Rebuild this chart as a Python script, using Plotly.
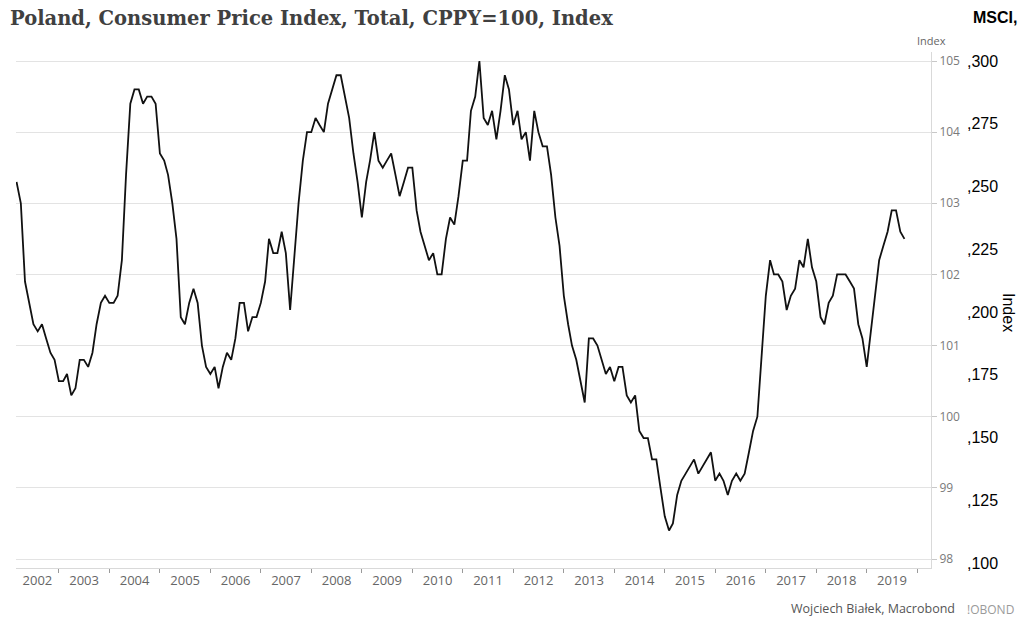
import pandas as pd
import plotly.graph_objects as go

# ---- data: Poland CPI, same period previous year = 100, monthly Mar 2002 - Oct 2019
start_month = "2002-03-01"
cpi_2002 = [103.3, 103.0, 101.9, 101.6, 101.3, 101.2, 101.3, 101.1, 100.9, 100.8]
cpi_2003 = [100.5, 100.5, 100.6, 100.3, 100.4, 100.8, 100.8, 100.7, 100.9, 101.3, 101.6, 101.7]
cpi_2004 = [101.6, 101.6, 101.7, 102.2, 103.4, 104.4, 104.6, 104.6, 104.4, 104.5, 104.5, 104.4]
cpi_2005 = [103.7, 103.6, 103.4, 103.0, 102.5, 101.4, 101.3, 101.6, 101.8, 101.6, 101.0, 100.7]
cpi_2006 = [100.6, 100.7, 100.4, 100.7, 100.9, 100.8, 101.1, 101.6, 101.6, 101.2, 101.4, 101.4]
cpi_2007 = [101.6, 101.9, 102.5, 102.3, 102.3, 102.6, 102.3, 101.5, 102.3, 103.0, 103.6, 104.0]
cpi_2008 = [104.0, 104.2, 104.1, 104.0, 104.4, 104.6, 104.8, 104.8, 104.5, 104.2, 103.7, 103.3]
cpi_2009 = [102.8, 103.3, 103.6, 104.0, 103.6, 103.5, 103.6, 103.7, 103.4, 103.1, 103.3, 103.5]
cpi_2010 = [103.5, 102.9, 102.6, 102.4, 102.2, 102.3, 102.0, 102.0, 102.5, 102.8, 102.7, 103.1]
cpi_2011 = [103.6, 103.6, 104.3, 104.5, 105.0, 104.2, 104.1, 104.3, 103.9, 104.3, 104.8, 104.6]
cpi_2012 = [104.1, 104.3, 103.9, 104.0, 103.6, 104.3, 104.0, 103.8, 103.8, 103.4, 102.8, 102.4]
cpi_2013 = [101.7, 101.3, 101.0, 100.8, 100.5, 100.2, 101.1, 101.1, 101.0, 100.8, 100.6, 100.7]
cpi_2014 = [100.5, 100.7, 100.7, 100.3, 100.2, 100.3, 99.8, 99.7, 99.7, 99.4, 99.4, 99.0]
cpi_2015 = [98.6, 98.4, 98.5, 98.9, 99.1, 99.2, 99.3, 99.4, 99.2, 99.3, 99.4, 99.5]
cpi_2016 = [99.1, 99.2, 99.1, 98.9, 99.1, 99.2, 99.1, 99.2, 99.5, 99.8, 100.0, 100.8]
cpi_2017 = [101.7, 102.2, 102.0, 102.0, 101.9, 101.5, 101.7, 101.8, 102.2, 102.1, 102.5, 102.1]
cpi_2018 = [101.9, 101.4, 101.3, 101.6, 101.7, 102.0, 102.0, 102.0, 101.9, 101.8, 101.3, 101.1]
cpi_2019 = [100.7, 101.2, 101.7, 102.2, 102.4, 102.6, 102.9, 102.9, 102.6, 102.5]

years = list(range(2002, 2020))
year_labels = [str(y) for y in years]
left_ticks = [105, 104, 103, 102, 101, 100, 99, 98]
overlay_ticks = [300, 275, 250, 225, 200, 175, 150, 125, 100]
overlay_text = [",300", ",275", ",250", ",225", ",200", ",175", ",150", ",125", ",100"]

values = (cpi_2002 + cpi_2003 + cpi_2004 + cpi_2005 + cpi_2006 + cpi_2007 + cpi_2008
          + cpi_2009 + cpi_2010 + cpi_2011 + cpi_2012 + cpi_2013 + cpi_2014 + cpi_2015
          + cpi_2016 + cpi_2017 + cpi_2018 + cpi_2019)
dates = pd.date_range(start_month, periods=len(values), freq="MS")

x_start = pd.Timestamp("2002-02-25")
x_end = pd.Timestamp("2020-04-10")

# year label positions: middle of each visible year
label_pos = []
for y in years:
    a = max(pd.Timestamp(f"{y}-01-01"), x_start)
    b = min(pd.Timestamp(f"{y+1}-01-01"), x_end)
    label_pos.append(a + (b - a) / 2)

fig = go.Figure()
fig.add_trace(go.Scatter(x=dates, y=values, mode="lines",
                         line=dict(color="#111111", width=1.8),
                         hoverinfo="skip", showlegend=False))
# invisible trace to activate the overlay axis
fig.add_trace(go.Scatter(x=[dates[0]], y=[200], yaxis="y2", mode="markers",
                         marker=dict(opacity=0), hoverinfo="skip", showlegend=False))

W, H = 1024, 626
plot_l, plot_r, plot_t, plot_b = 16, 931, 52, 568

fig.update_layout(
    width=W, height=H,
    margin=dict(l=plot_l, r=W - plot_r, t=plot_t, b=H - plot_b, pad=0),
    paper_bgcolor="white", plot_bgcolor="white",
    xaxis=dict(
        range=[x_start, x_end], type="date",
        tickmode="array", tickvals=label_pos, ticktext=year_labels,
        ticks="", showgrid=False, zeroline=False,
        showline=True, linecolor="#d9d9d9", linewidth=1,
        tickfont=dict(family="Open Sans", size=13, color="#666666"),
        minor=dict(tickmode="array",
                   tickvals=[pd.Timestamp(f"{y}-01-01") for y in range(2003, 2021)],
                   ticks="outside", ticklen=4, tickcolor="#9a9a9a", showgrid=False),
        fixedrange=True,
    ),
    yaxis=dict(
        side="right", range=[98 - 9 / 71.14, 105 + 9 / 71.14],
        tickmode="array", tickvals=left_ticks, ticktext=[str(v) for v in left_ticks],
        showgrid=True, gridcolor="#e3e3e3", gridwidth=1, zeroline=False,
        showline=True, linecolor="#d9d9d9", linewidth=1,
        ticks="outside", ticklen=5, tickcolor="#c8c8c8",
        tickfont=dict(family="Open Sans", size=12, color="#7a7a7a"),
        fixedrange=True,
    ),
    yaxis2=dict(
        overlaying="y", anchor="free", side="right", position=1, shift=35,
        autoshift=False,
        range=[98.0, 303.6],
        tickmode="array", tickvals=overlay_ticks, ticktext=overlay_text,
        showgrid=False, zeroline=False, showline=False, ticks="",
        tickfont=dict(family="Liberation Sans", size=16, color="#000000"),
        fixedrange=True,
    ),
    annotations=[
        dict(text="Poland, Consumer Price Index, Total, CPPY=100, Index",
             xref="paper", yref="paper", x=-plot_l / (plot_r - plot_l) + 8 / (plot_r - plot_l),
             y=1 + (plot_t - 19) / (plot_b - plot_t), xanchor="left", yanchor="middle",
             showarrow=False,
             font=dict(family="DejaVu Serif", size=19.5, color="#404040", weight="bold")),
        dict(text="<b>MSCI,</b>", xref="paper", yref="paper",
             x=1 + (1019 - plot_r) / (plot_r - plot_l), y=1 + (plot_t - 17) / (plot_b - plot_t),
             xanchor="right", yanchor="middle", showarrow=False,
             font=dict(family="Liberation Sans", size=16, color="#000000")),
        dict(text="Index", xref="paper", yref="paper", x=1, y=1 + (plot_t - 41) / (plot_b - plot_t),
             xanchor="center", yanchor="middle", showarrow=False,
             font=dict(family="Open Sans", size=11, color="#666666")),
        dict(text="Index", xref="paper", yref="paper", textangle=90,
             x=1 + (1009 - plot_r) / (plot_r - plot_l), y=1 - (312 - plot_t) / (plot_b - plot_t),
             xanchor="center", yanchor="middle", showarrow=False,
             font=dict(family="Liberation Sans", size=16, color="#000000")),
        dict(text="Wojciech Białek, Macrobond", xref="paper", yref="paper",
             x=1 + (957 - plot_r) / (plot_r - plot_l), y=-(608 - plot_b) / (plot_b - plot_t),
             xanchor="right", yanchor="middle", showarrow=False,
             font=dict(family="Open Sans", size=12.5, color="#555555")),
        dict(text="!OBOND", xref="paper", yref="paper",
             x=1 + (965 - plot_r) / (plot_r - plot_l), y=-(609 - plot_b) / (plot_b - plot_t),
             xanchor="left", yanchor="middle", showarrow=False,
             font=dict(family="Open Sans", size=12, color="#9a9a9a")),
    ],
)

fig.write_html("out.html", config={"displayModeBar": False},
               post_script="document.body.style.margin='0';document.body.style.overflow='hidden';")
